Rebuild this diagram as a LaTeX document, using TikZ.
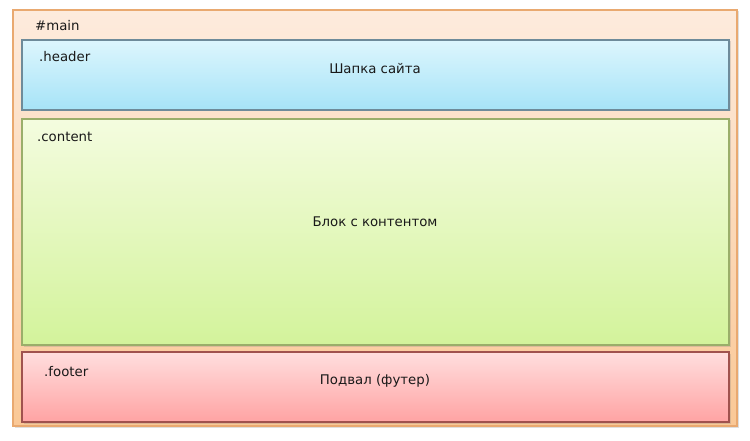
\documentclass[tikz,border=0pt]{standalone}
\usepackage{fontspec}
\setmainfont{DejaVu Sans}
\usetikzlibrary{shadows}
\definecolor{mainB}{HTML}{E9A970}
\definecolor{mainT}{HTML}{FDEBDD}
\definecolor{mainBo}{HTML}{FAC896}
\definecolor{hdB}{HTML}{6E8B9A}
\definecolor{hdT}{HTML}{DDF6FD}
\definecolor{hdBo}{HTML}{A6E3F7}
\definecolor{ctB}{HTML}{9AAE6A}
\definecolor{ctT}{HTML}{F4FCDF}
\definecolor{ctBo}{HTML}{D3F39B}
\definecolor{ftB}{HTML}{A0524E}
\definecolor{ftT}{HTML}{FFDEDE}
\definecolor{ftBo}{HTML}{FFA3A3}
\tikzset{
  box/.style={draw, line width=1.1pt, drop shadow={shadow xshift=1.5pt, shadow yshift=-1.5pt, opacity=0.25}},
  lbl/.style={font=\fontsize{13.3}{15}\selectfont, text=black!90, inner sep=0pt},
}
\begin{document}
\begin{tikzpicture}[x=1pt,y=-1pt]
\useasboundingbox[fill=white] (0,0) rectangle (750,441);
\path[box, draw=mainB, top color=mainT, bottom color=mainBo] (13,10) rectangle (737,426);
\node[lbl, anchor=west] (mainl) at (35,26) {\#main};
\path[box, draw=hdB, top color=hdT, bottom color=hdBo] (22,40) rectangle (729,110);
\node[lbl, anchor=west] (hdl) at (39,57) {.header};
\node[lbl] (hdc) at (375,69) {Шапка сайта};
\path[box, draw=ctB, top color=ctT, bottom color=ctBo] (22,119) rectangle (729,345);
\node[lbl, anchor=west] (ctl) at (37,137) {.content};
\node[lbl] (ctc) at (375,222) {Блок с контентом};
\path[box, draw=ftB, top color=ftT, bottom color=ftBo] (22,352) rectangle (729,422);
\node[lbl, anchor=west] (ftl) at (44,372) {.footer};
\node[lbl] (ftc) at (375,381) {Подвал (футер)};
\end{tikzpicture}
\end{document}
